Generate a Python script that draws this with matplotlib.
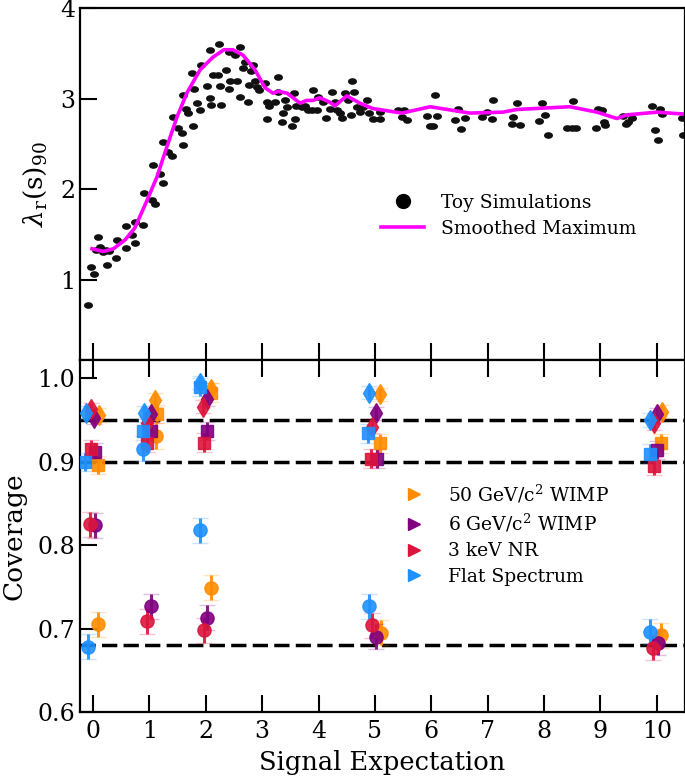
import numpy as np
import matplotlib
matplotlib.use("Agg")
import matplotlib.pyplot as plt
import matplotlib.transforms as mtransforms
from matplotlib.path import Path
from matplotlib.lines import Line2D

plt.rcParams['font.family'] = ['DejaVu Serif']
plt.rcParams['mathtext.fontset'] = 'dejavuserif'

# ---- top panel: toy simulations ----
toy_x = [-0.09, -0.04, 0.02, 0.09, 0.05, 0.12, 0.17, 0.22, 0.28, 0.25, 0.4, 0.42, 0.58, 0.58,
         0.69, 0.74, 0.74, 0.89, 0.9, 1.04, 1.06, 1.1, 1.19, 1.24, 1.24, 1.33, 1.4, 1.42,
         1.51, 1.58, 1.6, 1.6, 1.65, 1.68, 1.75, 1.77, 1.79, 1.85, 1.9, 1.91, 2.02, 2.07,
         2.07, 2.09, 2.13, 2.22, 2.24, 2.25, 2.27, 2.36, 2.41, 2.41, 2.43, 2.52, 2.56, 2.6,
         2.6, 2.66, 2.7, 2.74, 2.77, 2.8, 2.84, 2.87, 2.91, 2.94, 3.05, 3.08, 3.08, 3.12,
         3.23, 3.28, 3.28, 3.35, 3.37, 3.4, 3.44, 3.53, 3.56, 3.58, 3.6, 3.7, 3.76, 3.81,
         3.88, 3.9, 3.97, 3.99, 4.08, 4.13, 4.2, 4.24, 4.29, 4.33, 4.38, 4.41, 4.47, 4.52,
         4.57, 4.59, 4.63, 4.68, 4.73, 4.79, 4.86, 4.89, 4.96, 5.09, 5.09, 5.41, 5.48, 5.52,
         5.57, 5.92, 5.98, 6.03, 6.06, 6.1, 6.42, 6.47, 6.52, 6.6, 6.89, 6.98, 7.07, 7.09,
         7.43, 7.45, 7.52, 7.57, 7.91, 7.96, 8.01, 8.07, 8.4, 8.49, 8.56, 8.51, 8.92, 8.95,
         9.02, 9.06, 9.08, 9.4, 9.45, 9.49, 9.56, 9.91, 9.96, 10.02, 10.05, 10.09, 10.44, 10.46]
toy_y = [0.72, 1.14, 1.06, 1.47, 1.33, 1.36, 1.30, 1.33, 1.31, 1.16, 1.24, 1.44, 1.59, 1.35,
         1.49, 1.40, 1.64, 1.60, 1.96, 1.88, 2.27, 1.84, 2.17, 2.07, 2.52, 2.41, 2.36, 2.80,
         2.67, 2.62, 3.04, 2.49, 2.89, 2.84, 3.28, 2.70, 3.11, 2.95, 2.87, 3.37, 3.14, 3.01,
         3.54, 2.93, 3.26, 3.26, 3.60, 3.14, 2.93, 3.32, 3.52, 3.11, 3.20, 3.48, 3.19, 3.57,
         3.02, 3.34, 3.41, 2.96, 3.15, 3.30, 3.37, 3.19, 3.13, 3.09, 3.17, 2.96, 2.77, 2.92,
         2.96, 3.24, 3.07, 2.74, 2.84, 2.98, 2.91, 2.70, 3.06, 2.77, 2.92, 2.91, 2.92, 2.87,
         2.87, 3.10, 2.87, 3.02, 2.96, 2.79, 2.89, 3.07, 2.96, 2.87, 2.84, 2.78, 3.06, 2.98,
         2.82, 3.20, 3.07, 2.91, 2.85, 2.91, 2.98, 2.84, 2.77, 2.77, 2.85, 2.87, 2.80, 2.87,
         2.76, 2.81, 2.70, 2.70, 3.04, 2.81, 2.76, 2.89, 2.66, 2.78, 2.80, 2.85, 2.77, 2.98,
         2.72, 2.80, 2.95, 2.71, 2.75, 2.95, 2.82, 2.60, 2.67, 2.67, 2.67, 2.97, 2.68, 2.89,
         2.87, 2.74, 2.71, 2.81, 2.72, 2.74, 2.78, 2.92, 2.65, 2.54, 2.88, 2.83, 2.78, 2.60]

# smoothed maximum
smooth_x = [-0.02, 0.18, 0.36, 0.57, 0.74, 0.96, 1.13, 1.31, 1.49, 1.67, 1.9, 2.13, 2.32,
            2.48, 2.66, 2.87, 3.05, 3.19, 3.28, 3.44, 3.67, 3.79, 3.9, 4.02, 4.2, 4.29,
            4.5, 4.73, 4.96, 5.48, 5.98, 6.68, 7.27, 7.52, 8.46, 8.94, 9.29, 9.47, 10.0, 10.46]
smooth_y = [1.34, 1.31, 1.34, 1.44, 1.57, 1.88, 2.13, 2.47, 2.80, 3.07, 3.32, 3.46, 3.54,
            3.54, 3.48, 3.32, 3.12, 3.06, 3.08, 3.06, 2.95, 2.98, 2.98, 3.01, 2.96, 2.92,
            3.03, 2.95, 2.89, 2.84, 2.91, 2.84, 2.85, 2.88, 2.91, 2.85, 2.78, 2.82, 2.85, 2.83]

# ---- bottom panel: coverage ----
spectra = ["50 GeV/c$^2$ WIMP", "6 GeV/c$^2$ WIMP", "3 keV NR", "Flat Spectrum"]
colors = ["#FF8C00", "#800080", "#DC143C", "#1E90FF"]

# x positions per spectrum (signal expectation 0, 1, 2, 5, 10, slightly offset)
x68 = [[0.09, 1.11, 2.09, 5.10, 10.08],
       [0.04, 1.03, 2.02, 5.02, 10.02],
       [-0.05, 0.96, 1.97, 4.95, 9.93],
       [-0.09, 0.89, 1.90, 4.90, 9.88]]
cov68 = [[0.705, 0.931, 0.749, 0.695, 0.692],
         [0.824, 0.727, 0.713, 0.690, 0.683],
         [0.825, 0.709, 0.698, 0.704, 0.677],
         [0.678, 0.916, 0.818, 0.727, 0.696]]
x90 = [[0.09, 1.13, 2.10, 5.09, 10.08],
       [0.04, 1.03, 2.02, 5.03, 10.00],
       [-0.03, 0.96, 1.97, 4.93, 9.95],
       [-0.14, 0.89, 1.90, 4.88, 9.88]]
cov90 = [[0.896, 0.957, 0.983, 0.922, 0.922],
         [0.912, 0.937, 0.937, 0.904, 0.914],
         [0.915, 0.923, 0.923, 0.904, 0.895],
         [0.900, 0.937, 0.990, 0.934, 0.910]]
x95 = [[0.10, 1.10, 2.10, 5.09, 10.10],
       [0.02, 1.03, 2.02, 5.02, 10.01],
       [-0.04, 0.96, 1.95, 4.95, 9.95],
       [-0.12, 0.90, 1.90, 4.90, 9.88]]
cov95 = [[0.956, 0.974, 0.987, 0.981, 0.960],
         [0.953, 0.957, 0.975, 0.958, 0.957],
         [0.963, 0.946, 0.966, 0.942, 0.946],
         [0.959, 0.959, 0.995, 0.983, 0.950]]
err68, err90, err95 = 0.015, 0.011, 0.008
targets = [0.95, 0.90, 0.68]

fig = plt.figure(figsize=(6.85, 7.82), dpi=100)
ax1 = fig.add_axes([0.117, 0.5396, 0.883, 0.450])
ax2 = fig.add_axes([0.117, 0.0895, 0.883, 0.450])

# ellipse-shaped dots like the original
ell = Path.unit_circle().transformed(mtransforms.Affine2D().scale(1.35, 1.0))

ax1.scatter(toy_x, toy_y, marker=ell, s=42, color="#111111", lw=0)
ax1.plot(smooth_x, smooth_y, color="#FF00FF", lw=2.6)
ax1.set_ylim(0.11, 4.0)
ax1.set_yticks([1, 2, 3, 4])
ax1.set_ylabel(r"$\lambda_{\mathrm{r}}(\mathrm{s})_{90}$", fontsize=19, labelpad=8)
top_handles = [Line2D([], [], ls="none", marker="o", ms=10, color="black"),
               Line2D([], [], color="#FF00FF", lw=2.6)]
ax1.legend(top_handles, ["Toy Simulations", "Smoothed Maximum"], loc="center left",
           bbox_to_anchor=(0.47, 0.41), frameon=False, fontsize=13.5,
           handlelength=2.3, handletextpad=0.9, labelspacing=0.45)
ax1.tick_params(axis="x", labelbottom=False)

for y in targets:
    ax2.axhline(y, color="black", lw=2.5, dashes=(4.4, 1.8), zorder=1)

for i in range(4):
    for xs, ys, err, mk, ms in [(x68[i], cov68[i], err68, "o", 9.5),
                                (x90[i], cov90[i], err90, "s", 9),
                                (x95[i], cov95[i], err95, "d", 10.5)]:
        line, caps, bars = ax2.errorbar(xs, ys, yerr=err, fmt=mk, ms=ms, color=colors[i],
                                        ecolor=colors[i], elinewidth=2.2, capsize=6,
                                        capthick=1, alpha=0.9, zorder=3)
        for c in caps:
            c.set_alpha(0.25)

handles = [Line2D([], [], ls="none", marker=">", ms=9, color=c) for c in colors]
ax2.legend(handles, spectra, loc="center left", bbox_to_anchor=(0.5, 0.505), frameon=False,
           fontsize=13.5, handlelength=1.5, handletextpad=1.1, labelspacing=0.4)

ax2.set_ylim(0.6, 1.022)
ax2.set_yticks([0.6, 0.7, 0.8, 0.9, 1.0])
ax2.set_ylabel("Coverage", fontsize=19, labelpad=8)
ax2.set_xlabel("Signal Expectation", fontsize=18.5, labelpad=5)

for ax in (ax1, ax2):
    ax.set_xlim(-0.23, 10.5)
    ax.set_xticks(range(0, 11))
    for s in ax.spines.values():
        s.set_linewidth(1.6)
    ax.tick_params(direction="in", length=12, width=1.5, labelsize=17)
ax1.tick_params(axis="x", top=False, bottom=True)
ax2.tick_params(axis="x", top=True, bottom=True, pad=6)

fig.savefig("out.png", dpi=100)
